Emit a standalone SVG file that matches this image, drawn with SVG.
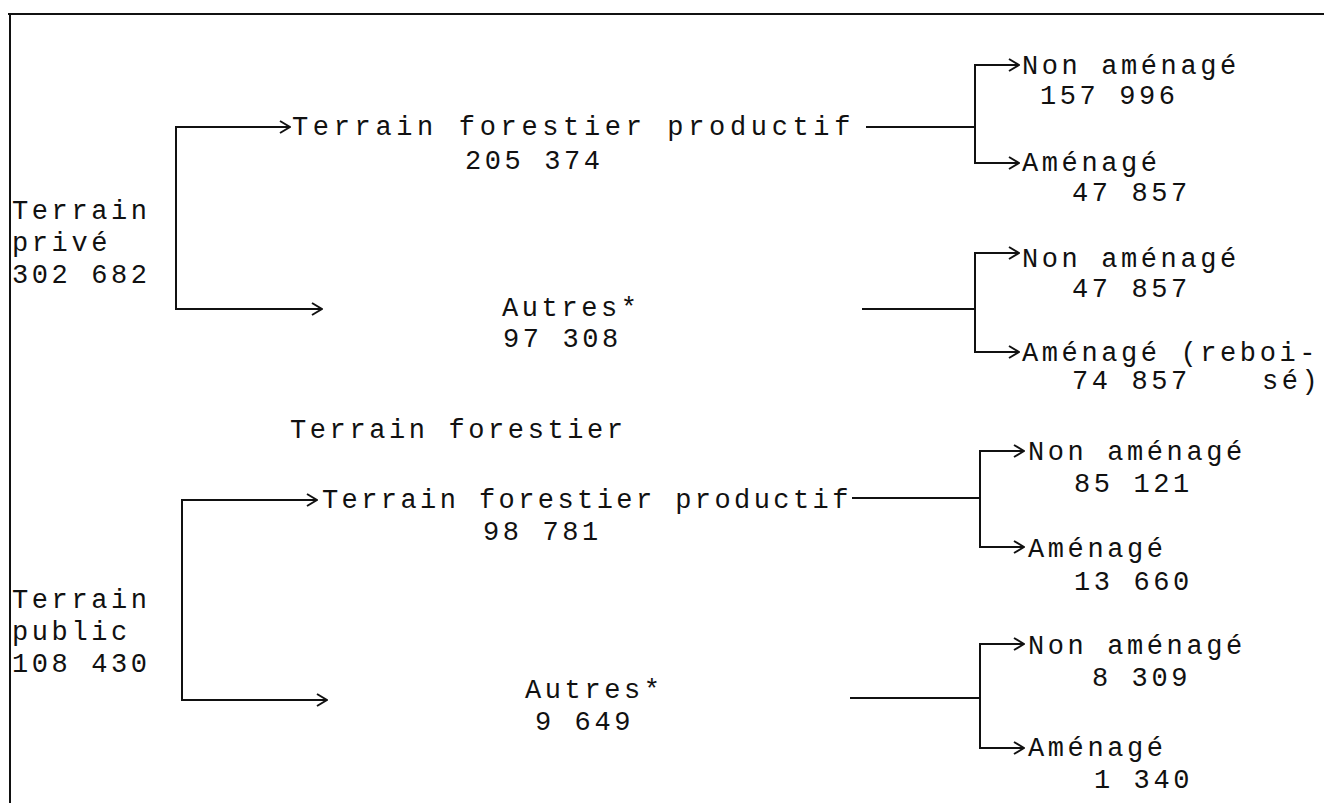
<svg xmlns="http://www.w3.org/2000/svg" width="1324" height="803" viewBox="0 0 1324 803">
<style>
text{font-family:"Liberation Mono","DejaVu Sans Mono",monospace;font-size:27px;letter-spacing:3.6px;fill:#111}
.c{fill:none;stroke:#111;stroke-width:2}
</style>
<defs>
<marker id="ah" viewBox="0 0 12 14" refX="11" refY="7" markerWidth="12" markerHeight="14" markerUnits="userSpaceOnUse" orient="auto">
<path d="M1,1 L11,7 L1,13" fill="none" stroke="#111" stroke-width="2"/>
</marker>
</defs>
<rect width="1324" height="803" fill="#fff"/>
<g id="frame" class="c">
<path d="M8,14 H1324"/>
<path d="M10,14 V803"/>
</g>
<g id="connectors" class="c">
<path d="M290,127 H176 V309 H322" marker-end="url(#ah)"/>
<path d="M280,127 H290" marker-end="url(#ah)"/>
<path d="M866,127 H975"/>
<path d="M1015,65 H975 V163 H1015"/>
<path d="M1005,65 H1019" marker-end="url(#ah)"/>
<path d="M1005,163 H1019" marker-end="url(#ah)"/>
<path d="M862,309 H975"/>
<path d="M1015,253 H975 V352 H1015"/>
<path d="M1005,253 H1019" marker-end="url(#ah)"/>
<path d="M1005,352 H1019" marker-end="url(#ah)"/>
<path d="M317,500 H182 V700 H327" marker-end="url(#ah)"/>
<path d="M305,500 H317" marker-end="url(#ah)"/>
<path d="M852,498 H980"/>
<path d="M1018,451 H980 V547 H1018"/>
<path d="M1008,451 H1024" marker-end="url(#ah)"/>
<path d="M1008,547 H1024" marker-end="url(#ah)"/>
<path d="M850,698 H980"/>
<path d="M1018,644 H980 V748 H1018"/>
<path d="M1008,644 H1024" marker-end="url(#ah)"/>
<path d="M1008,748 H1024" marker-end="url(#ah)"/>
</g>
<g id="prive">
<text x="12" y="219">Terrain</text>
<text x="12" y="251">privé</text>
<text x="12" y="283">302 682</text>
</g>
<g id="tfp1">
<text x="292" y="135" textLength="562">Terrain forestier productif</text>
<text x="465" y="169">205 374</text>
</g>
<g id="na1"><text x="1022" y="74">Non aménagé</text><text x="1040" y="104">157 996</text></g>
<g id="am1"><text x="1022" y="171">Aménagé</text><text x="1072" y="201">47 857</text></g>
<g id="autres1"><text x="502" y="316">Autres*</text><text x="503" y="347">97 308</text></g>
<g id="na2"><text x="1022" y="267">Non aménagé</text><text x="1072" y="297">47 857</text></g>
<g id="am2"><text x="1022" y="361">Aménagé (reboi-</text><text x="1072" y="389">74 857</text><text x="1262" y="389">sé)</text></g>
<g id="tf"><text x="290" y="438">Terrain forestier</text></g>
<g id="public">
<text x="12" y="608">Terrain</text>
<text x="12" y="640">public</text>
<text x="12" y="672">108 430</text>
</g>
<g id="tfp2">
<text x="322" y="508" textLength="530">Terrain forestier productif</text>
<text x="483" y="540">98 781</text>
</g>
<g id="na3"><text x="1028" y="460">Non aménagé</text><text x="1074" y="492">85 121</text></g>
<g id="am3"><text x="1028" y="557">Aménagé</text><text x="1074" y="590">13 660</text></g>
<g id="autres2"><text x="525" y="698">Autres*</text><text x="535" y="730">9 649</text></g>
<g id="na4"><text x="1028" y="654">Non aménagé</text><text x="1092" y="686">8 309</text></g>
<g id="am4"><text x="1028" y="756">Aménagé</text><text x="1094" y="788">1 340</text></g>
</svg>
